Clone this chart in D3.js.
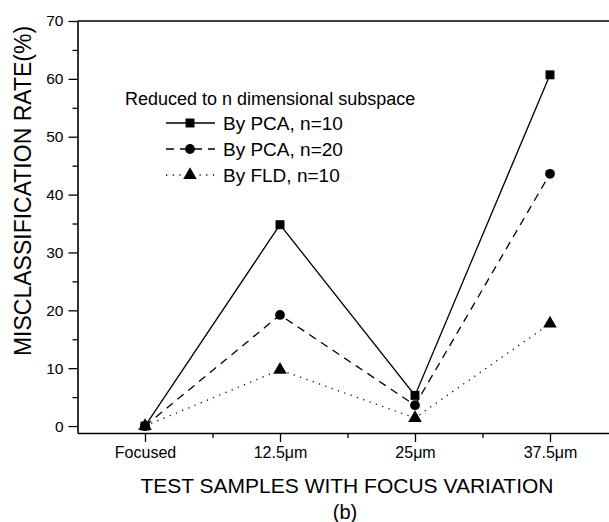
<!DOCTYPE html>
<html>
<head>
<meta charset="utf-8">
<script src="https://cdn.jsdelivr.net/npm/d3@7"></script>
<style>
  body { margin: 0; background: #fff; }
  text { font-family: "Liberation Sans", Arial, sans-serif; fill: #000; }
</style>
</head>
<body>
<script>
var categories = ["Focused", "12.5μm", "25μm", "37.5μm"];
var pca10 = [0, 34.8, 5.3, 60.7];
var pca20 = [0, 19.2, 3.6, 43.6];
var fld10 = [0, 9.7, 1.4, 17.7];
var seriesNames = ["By PCA, n=10", "By PCA, n=20", "By FLD, n=10"];
var yMajor = [0, 10, 20, 30, 40, 50, 60, 70];
var yMinor = [5, 15, 25, 35, 45, 55, 65];

var width = 609, height = 522;
var plotLeft = 77.5, plotTop = 21, plotBottom = 433, plotRight = 617.5;

var svg = d3.select("body").append("svg")
    .attr("width", width)
    .attr("height", height);

var x = d3.scaleLinear().domain([-0.5, 3.5]).range([plotLeft, plotRight]);
var y = d3.scaleLinear().domain([-1.2, 70]).range([plotBottom, plotTop]);

// minor ticks first
svg.append("g")
    .attr("transform", "translate(" + plotLeft + ",0)")
    .call(d3.axisLeft(y).tickValues(yMinor).tickSize(5).tickSizeOuter(0).tickFormat(""))
    .call(function(g) { g.select(".domain").remove(); });
svg.append("g")
    .attr("transform", "translate(0," + plotBottom + ")")
    .call(d3.axisBottom(x).tickValues([0.5, 1.5, 2.5]).tickSize(5).tickSizeOuter(0).tickFormat(""))
    .call(function(g) { g.select(".domain").remove(); });

var yAxis = svg.append("g")
    .attr("transform", "translate(" + plotLeft + ",0)")
    .call(d3.axisLeft(y).tickValues(yMajor).tickSize(9).tickSizeOuter(0).tickPadding(5));
yAxis.selectAll("text").style("font-size", "15.5px");

var xAxis = svg.append("g")
    .attr("transform", "translate(0," + plotBottom + ")")
    .call(d3.axisBottom(x).tickValues([0, 1, 2, 3]).tickSize(9).tickSizeOuter(0).tickPadding(5)
        .tickFormat(function(d) { return categories[d]; }));
xAxis.selectAll("text").style("font-size", "16px");

svg.selectAll(".domain").attr("stroke-width", 1.6);
svg.selectAll(".tick line").attr("stroke-width", 1.3);

// top frame
svg.append("line")
    .attr("x1", plotLeft).attr("x2", plotRight)
    .attr("y1", plotTop).attr("y2", plotTop)
    .attr("stroke", "#000").attr("stroke-width", 1.6);

// axis titles
svg.append("text")
    .attr("transform", "translate(31,191) rotate(-90)")
    .attr("text-anchor", "middle")
    .style("font-size", "23px")
    .text("MISCLASSIFICATION RATE(%)");

svg.append("text")
    .attr("x", 347).attr("y", 493)
    .attr("text-anchor", "middle")
    .style("font-size", "21px")
    .text("TEST SAMPLES WITH FOCUS VARIATION");

svg.append("text")
    .attr("x", 345).attr("y", 519)
    .attr("text-anchor", "middle")
    .style("font-size", "20px")
    .text("(b)");

// series
var dashes = [null, "8,6", "1.2,5.5"];
var shapes = [d3.symbolSquare, d3.symbolCircle, d3.symbolTriangle];
var sizes = [80, 75, 80];
var allSeries = [pca10, pca20, fld10];

var line = d3.line()
    .x(function(d, i) { return x(i); })
    .y(function(d) { return y(d); });

allSeries.forEach(function(vals, k) {
    svg.append("path")
        .datum(vals)
        .attr("d", line)
        .attr("fill", "none")
        .attr("stroke", "#000")
        .attr("stroke-width", 1.3)
        .attr("stroke-dasharray", dashes[k]);
    svg.selectAll(".m" + k)
        .data(vals)
        .enter().append("path")
        .attr("class", "m" + k)
        .attr("transform", function(d, i) { return "translate(" + x(i) + "," + y(d) + ")"; })
        .attr("d", d3.symbol().type(shapes[k]).size(sizes[k]));
});

// legend
var legend = svg.append("g");
legend.append("text")
    .attr("x", 125).attr("y", 105)
    .style("font-size", "18px")
    .text("Reduced to n dimensional subspace");

seriesNames.forEach(function(name, k) {
    var ly = 123 + k * 26;
    legend.append("line")
        .attr("x1", 166).attr("x2", 215)
        .attr("y1", ly).attr("y2", ly)
        .attr("stroke", "#000")
        .attr("stroke-width", 1.3)
        .attr("stroke-dasharray", dashes[k]);
    legend.append("path")
        .attr("transform", "translate(190," + ly + ")")
        .attr("d", d3.symbol().type(shapes[k]).size(sizes[k]));
    legend.append("text")
        .attr("x", 223).attr("y", ly + 7)
        .style("font-size", "19px")
        .text(name);
});
</script>
</body>
</html>
